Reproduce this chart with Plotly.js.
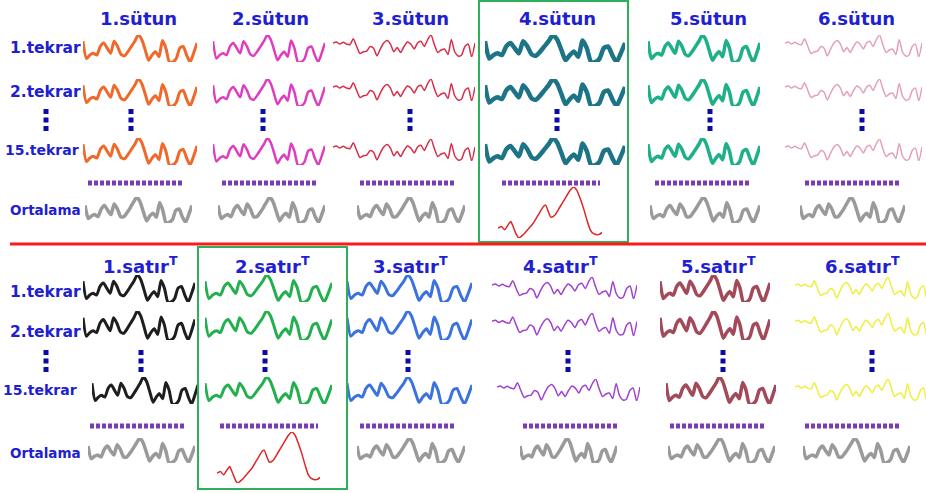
<!DOCTYPE html>
<html><head><meta charset="utf-8">
<script src="https://cdn.plot.ly/plotly-3.0.1.min.js"></script>
<style>html,body{margin:0;padding:0;background:#fff}#c{width:926px;height:493px}</style>
</head><body><div id="c"></div>
<script>
// ---- data ----
const topTitles = ["1.sütun","2.sütun","3.sütun","4.sütun","5.sütun","6.sütun"];
const bottomTitles = ["1.satır","2.satır","3.satır","4.satır","5.satır","6.satır"];
const rowLabels = ["1.tekrar","2.tekrar","15.tekrar","Ortalama"];
const thickWave = [70,20,30,35,30,55,65,50,35,70,55,32,28,40,55,70,88,75,45,15,30,40,25,72,50,10,10,20,50,55,30,10,35,65];
const thinWave = [45,48,42,47,42,40,57,35,15,20,22,35,30,8,28,45,52,42,20,32,18,35,48,42,28,45,50,35,55,68,40,18,25,28,12,55,20,8,10,35,42,5,45];
const avgWave = [62,25,32,36,30,52,62,48,36,66,52,30,30,42,56,72,86,72,44,18,32,40,28,70,48,12,14,22,48,52,30,14,36,62];
const redCurveX = [10,20,30,40,48,55,65,72,85,100,115,130,145,152,160,168,180,195,210,225,235,245,255,265,275,285,295,305,312,320];
const redCurveY = [35,40,30,45,55,40,15,5,15,32,50,75,100,105,85,68,75,100,125,150,160,150,125,95,60,30,18,15,16,22];
const topColors = ["#f0692a","#e03cc0","#d82c48","#1d7486","#1fb08a","#e4a0b8"];
const bottomColors = ["#1e1e1e","#22b04e","#3c72e0","#a040d0","#a24a5a","#f0ee3c"];

// ---- layout geometry (pixels) ----
const W = 926, H = 493;
const px = v => v / W, py = v => 1 - v / H;
const topCols = [
  {x:[83,197], thin:false, w:3,   avg:[85,192]},
  {x:[213,325], thin:false, w:2.5, avg:[218,325]},
  {x:[333,475], thin:true,  w:1.5, avg:[357,465]},
  {x:[485,625], thin:false, w:4.5, red:{x:[498,602], y:[187,238]}},
  {x:[648,760], thin:false, w:3.5, avg:[650,760]},
  {x:[785,922], thin:true,  w:1.5, avg:[800,905]}
];
const topRowsY = [[35,62],[79,106],[138,165]];
const topThinY = [[35,57],[79,101],[139,161]];
const topAvgY = [197,223];
const botCols = [
  {x:[83,195], x15:[92,198], thin:false, w:3, avg:[88,195]},
  {x:[205,332], thin:false, w:3, red:{x:[217,320], y:[432,483]}},
  {x:[347,472], thin:false, w:3, avg:[357,465]},
  {x:[492,637], x15:[497,640], thin:true, w:1.5, avg:[520,617]},
  {x:[660,770], x15:[666,776], thin:false, w:3.5, avg:[668,775]},
  {x:[795,930], thin:true, w:1.5, avg:[803,910]}
];
const botRowsY = [[275,302],[311,340],[377,404]];
const botThinY = [[277,299],[313,336],[379,401]];
const botAvgY = [438,463];

const traces = [];
const layout = {
  width: W, height: H, margin:{l:0,r:0,t:0,b:0},
  paper_bgcolor:'#ffffff', plot_bgcolor:'rgba(0,0,0,0)', showlegend:false,
  annotations:[], shapes:[]
};
let n = 0;
function addWave(yArr, xArr, xpx, ypx, color, width){
  n++;
  const sx = n === 1 ? '' : String(n);
  const xs = xArr || yArr.map((_, i) => i);
  traces.push({type:'scatter', mode:'lines', x: xs, y: yArr, xaxis:'x'+sx, yaxis:'y'+sx,
    line:{color: color, width: width, shape:'spline', smoothing:0.6}, hoverinfo:'skip'});
  const ymin = Math.min(...yArr), ymax = Math.max(...yArr);
  const x1c = Math.min(xpx[1], W);
  const xmin = Math.min(...xs), xmax = Math.max(...xs);
  layout['xaxis'+sx] = {domain:[px(xpx[0]), px(x1c)], range:[xmin, xmin + (xmax-xmin) * (x1c-xpx[0]) / (xpx[1]-xpx[0])], visible:false, fixedrange:true, anchor:'y'+sx};
  layout['yaxis'+sx] = {domain:[py(ypx[1]), py(ypx[0])], range:[ymin, ymax], visible:false, fixedrange:true, anchor:'x'+sx};
}
function panel(cols, colors, rowsY, thinY, avgY){
  cols.forEach((c, i) => {
    for (let r = 0; r < 3; r++) {
      const xr = (r === 2 && c.x15) ? c.x15 : c.x;
      addWave(c.thin ? thinWave : thickWave, null, xr, c.thin ? thinY[r] : rowsY[r], colors[i], c.w);
    }
    if (c.red) addWave(redCurveY, redCurveX, c.red.x, c.red.y, '#e02424', 1.5);
    else addWave(avgWave, null, c.avg, avgY, '#9a9a9a', 3.5);
  });
}
panel(topCols, topColors, topRowsY, topThinY, topAvgY);
panel(botCols, bottomColors, botRowsY, botThinY, botAvgY);

// boxes and separator
const S = layout.shapes;
S.push({type:'rect', xref:'paper', yref:'paper', x0:px(479), x1:px(628), y0:py(242), y1:py(1), line:{color:'#2fae5c', width:2}});
S.push({type:'rect', xref:'paper', yref:'paper', x0:px(198), x1:px(347), y0:py(489), y1:py(247), line:{color:'#2fae5c', width:2}});
S.push({type:'line', xref:'paper', yref:'paper', x0:px(10), x1:px(926), y0:py(244), y1:py(244), line:{color:'#ff1a1a', width:3}});
// dotted purple lines
const topDots = [[88,183],[222,316],[360,455],[502,600],[655,750],[805,900]];
const botDots = [[90,185],[220,318],[360,455],[523,617],[670,765],[805,900]];
topDots.forEach(d => S.push({type:'line', xref:'paper', yref:'paper', x0:px(d[0]), x1:px(d[1]), y0:py(183), y1:py(183), line:{color:'#7a3cb4', width:5, dash:'4px,2px'}}));
botDots.forEach(d => S.push({type:'line', xref:'paper', yref:'paper', x0:px(d[0]), x1:px(d[1]), y0:py(426), y1:py(426), line:{color:'#7a3cb4', width:5, dash:'4px,2px'}}));
// vertical blue dots (three squares)
const vTop = [46,131,263,410,557,710,862];
const vBot = [46,141,265,408,568,723,872];
vTop.forEach(x => S.push({type:'line', xref:'paper', yref:'paper', x0:px(x), x1:px(x), y0:py(109), y1:py(131), line:{color:'#0b0ba8', width:5, dash:'5px,3.5px'}}));
vBot.forEach(x => S.push({type:'line', xref:'paper', yref:'paper', x0:px(x), x1:px(x), y0:py(350), y1:py(372), line:{color:'#0b0ba8', width:5, dash:'5px,3.5px'}}));

// text
const A = layout.annotations;
const blue = '#2020d0';
const fam = 'DejaVu Sans, Arial, sans-serif';
const topTx = [138,270,410,557,708,856];
const botTx = [140,272,410,560,718,862];
topTitles.forEach((t, i) => A.push({xref:'paper', yref:'paper', x:px(topTx[i]), y:py(18), text:'<b>'+t+'</b>', showarrow:false, xanchor:'center', yanchor:'middle', font:{family:fam, size:18, color:blue}}));
bottomTitles.forEach((t, i) => A.push({xref:'paper', yref:'paper', x:px(botTx[i]), y:py(265), text:'<b>'+t+'<sup>T</sup></b>', showarrow:false, xanchor:'center', yanchor:'middle', font:{family:fam, size:18, color:blue}}));
const topLy = [48,92,150,210];
const botLy = [292,332,390,453];
const labelSizes = [15.5, 15.5, 14, 13.5];
rowLabels.forEach((t, i) => {
  const sz = labelSizes[i];
  A.push({xref:'paper', yref:'paper', x:px(i===2?81:83), y:py(topLy[i]), text:'<b>'+t+'</b>', showarrow:false, xanchor:'right', yanchor:'middle', font:{family:fam, size:sz, color:blue}});
  A.push({xref:'paper', yref:'paper', x:px(i===2?79:83), y:py(botLy[i]), text:'<b>'+t+'</b>', showarrow:false, xanchor:'right', yanchor:'middle', font:{family:fam, size:sz, color:blue}});
});

Plotly.newPlot('c', traces, layout, {staticPlot:true, displayModeBar:false});
</script></body></html>
